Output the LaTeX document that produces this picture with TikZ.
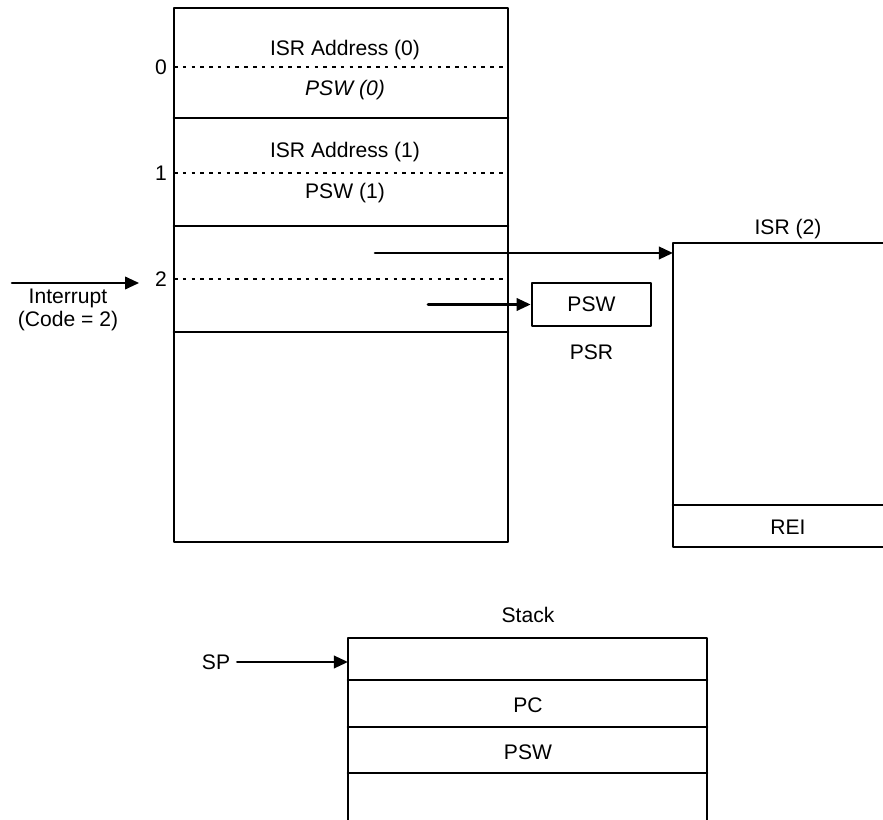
\documentclass[tikz,border=0pt]{standalone}
\usepackage{fontspec}
\setmainfont{Liberation Sans}
\usetikzlibrary{arrows.meta, positioning}

\begin{document}
\begin{tikzpicture}[>={Triangle[length=8pt,width=7pt]}, x=0.02cm, y=-0.02cm,
    line width=1.5pt, line cap=round, line join=round,
    font=\fontsize{12}{13.5}\selectfont,
    dots/.style={line width=1.1pt, line cap=butt, dash pattern=on 2pt off 3pt}]
  \useasboundingbox (0,0) rectangle (883,820);
  % vektortabell
  \draw (174,8) rectangle (508,542);
  \foreach \y in {118,226,332}
    \draw (174,\y) -- (508,\y);
  \foreach \y/\n in {67/0,173/1,279/2}{
    \draw[dots] (174,\y) -- (508,\y);
    \node[left] (idx\n) at (174,\y) {\n};
  }
  \node (isr0) at (345,50) {ISR Address (0)};
  \node (psw0) at (345,90) {\itshape PSW (0)};
  \node (isr1) at (345,152) {ISR Address (1)};
  \node (psw1) at (345,193) {PSW (1)};
  % avbrott in
  \coordinate (irq) at (12,283);
  \draw[->, shorten >=5pt] (irq) -- (irq -| idx2.west);
  \node[align=center, inner sep=1pt] (irqtxt) at (68,310) {Interrupt\\(Code = 2)};
  % ISR (2)
  \coordinate (isrtop) at (673,243);
  \draw (883,243) -- (isrtop) -- (673,547) -- (883,547);
  \draw (673,505) -- (883,505);
  \node (isr2) at (788,229) {ISR (2)};
  \node (rei) at (788,527) {REI};
  \coordinate (vec2) at (375,253);
  \draw[->] (vec2) -- (vec2 -| isrtop);
  % PSR
  \node[draw, minimum width=2.38cm, minimum height=0.86cm, inner sep=0pt] (pswreg) at (591.5,304.5) {PSW};
  \node[below=0.2cm of pswreg] (psr) {PSR};
  \coordinate (vec2psw) at (428,304.5);
  \draw[->] (vec2psw) -- (pswreg.west);
  % stack
  \coordinate (stktop) at (348,638);
  \draw (348,820) -- (stktop) -- (707,638) -- (707,820);
  \foreach \y in {680,727,773}
    \draw (348,\y) -- (707,\y);
  \node (stack) at (528,615) {Stack};
  \node (pc) at (528,705) {PC};
  \node (pswstk) at (528,752) {PSW};
  \node (sp) at (216,662) {SP};
  \draw[->] (sp) -- (sp -| stktop);
\end{tikzpicture}
\end{document}
